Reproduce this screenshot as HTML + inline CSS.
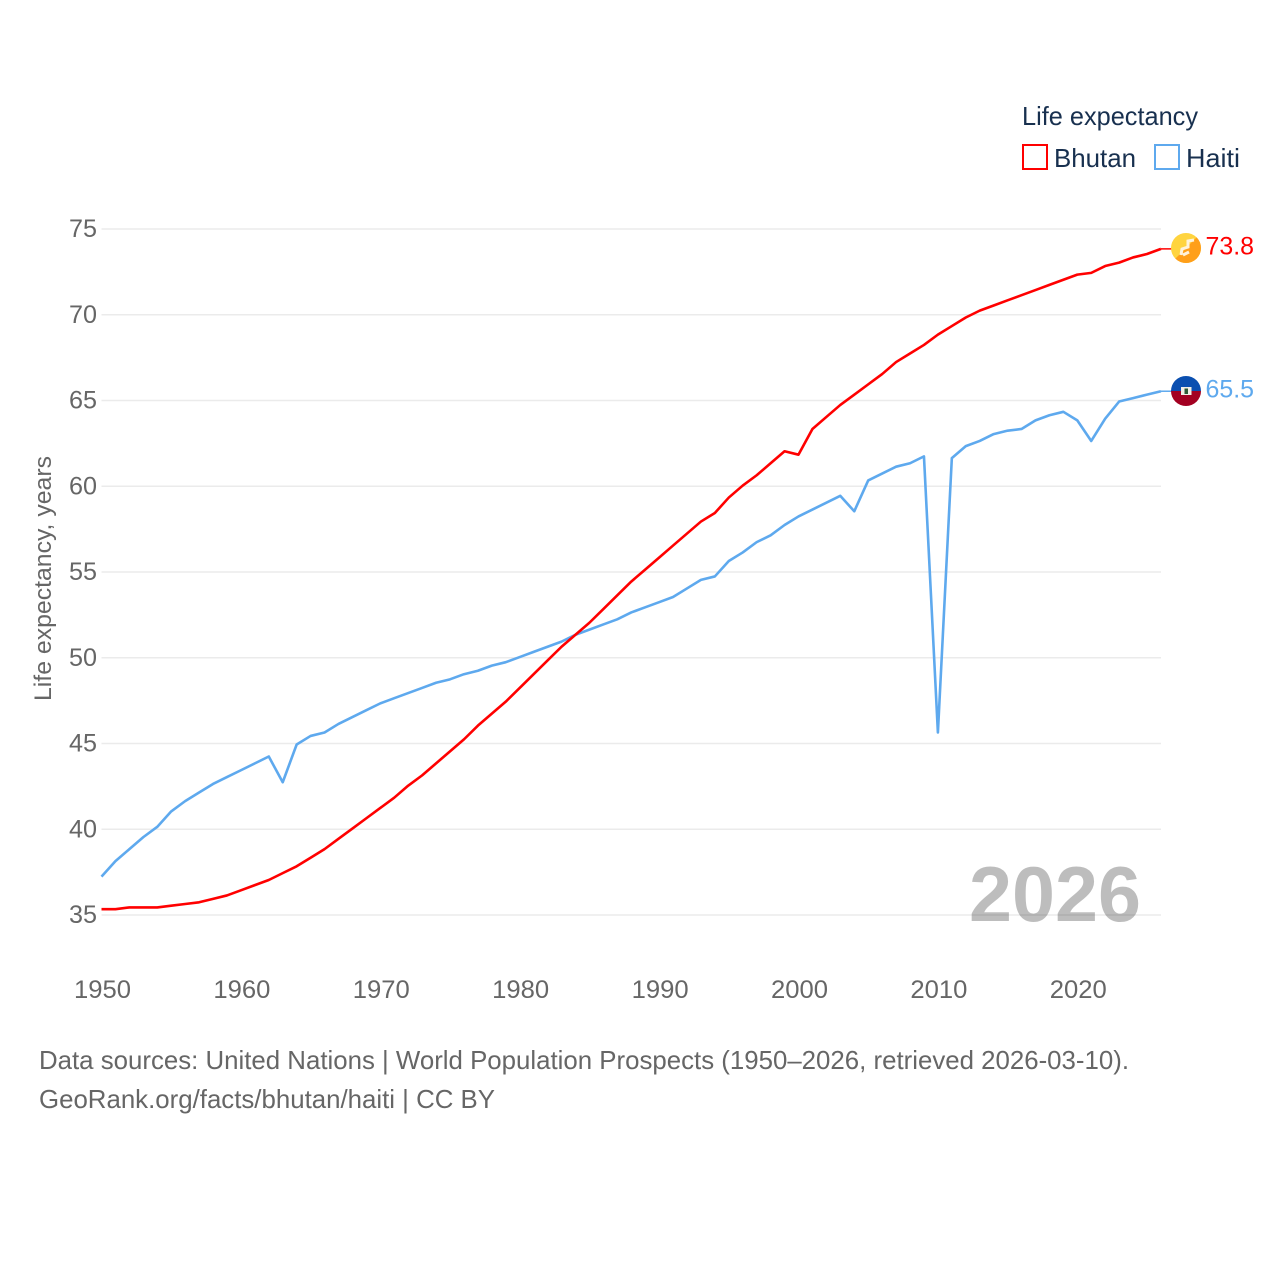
<!DOCTYPE html>
<html>
<head>
<meta charset="utf-8">
<title>Life expectancy: Bhutan vs Haiti</title>
<style>
html,body{margin:0;padding:0;background:#fff;width:1280px;height:1280px;overflow:hidden}
svg{display:block}
text{font-family:"Liberation Sans",sans-serif}
</style>
</head>
<body>
<svg id="chart" width="1280" height="1280" viewBox="0 0 1280 1280" xmlns="http://www.w3.org/2000/svg">
  <defs>
    <clipPath id="clip-bhutan"><circle cx="1186" cy="248" r="15"/></clipPath>
    <clipPath id="clip-haiti"><circle cx="1186" cy="391" r="15"/></clipPath>
  </defs>
  <rect x="0" y="0" width="1280" height="1280" fill="#ffffff"/>
  <g id="grid"></g>
  <g id="yticks"></g>
  <g id="xticks"></g>
  <text transform="translate(51,701) rotate(-90)" font-size="24" fill="#666666" textLength="245" lengthAdjust="spacingAndGlyphs">Life expectancy, years</text>
  <text x="969" y="921" font-size="78" font-weight="bold" fill="#000000" fill-opacity="0.26" textLength="172" lengthAdjust="spacingAndGlyphs">2026</text>
  <g id="series"></g>

  <g clip-path="url(#clip-bhutan)">
    <rect x="1171" y="233" width="30" height="30" fill="#ffd43f"/>
    <polygon points="1171,263 1201,233 1201,263" fill="#ff9f1a"/>
    <path d="M1194 240 L1188 241 L1188 247 L1182 249 L1181 255 M1189 252 L1183 255" fill="none" stroke="#fff3dc" stroke-width="3"/>
  </g>
  <g clip-path="url(#clip-haiti)">
    <rect x="1171" y="376" width="30" height="15" fill="#0a4fb0"/>
    <rect x="1171" y="391" width="30" height="15" fill="#a30021"/>
    <rect x="1181" y="387" width="10.5" height="8" fill="#f2efe6"/>
    <rect x="1184.5" y="388.5" width="3.5" height="5.5" fill="#2e5a35"/>
  </g>
  <text id="label-bhutan" x="1205.5" y="254.5" font-size="25" fill="#ff0000" textLength="48.5" lengthAdjust="spacingAndGlyphs"></text>
  <text id="label-haiti" x="1205.5" y="397.5" font-size="25" fill="#5ea9ee" textLength="48.5" lengthAdjust="spacingAndGlyphs"></text>

  <g>
    <text x="1022" y="125" font-size="26" fill="#18304f" textLength="176" lengthAdjust="spacingAndGlyphs">Life expectancy</text>
    <rect x="1023" y="145" width="24" height="24" fill="#ffffff" stroke="#ff0000" stroke-width="2"/>
    <text x="1054" y="167" font-size="26" fill="#18304f" textLength="82" lengthAdjust="spacingAndGlyphs">Bhutan</text>
    <rect x="1155" y="145" width="24" height="24" fill="#ffffff" stroke="#5ea9ee" stroke-width="2"/>
    <text x="1186" y="167" font-size="26" fill="#18304f" textLength="54" lengthAdjust="spacingAndGlyphs">Haiti</text>
  </g>

  <text x="39" y="1069" font-size="26" fill="#666666" textLength="1090" lengthAdjust="spacingAndGlyphs">Data sources: United Nations | World Population Prospects (1950–2026, retrieved 2026-03-10).</text>
  <text x="39" y="1108" font-size="26" fill="#666666" textLength="456" lengthAdjust="spacingAndGlyphs">GeoRank.org/facts/bhutan/haiti | CC BY</text>
</svg>
<script>
const startYear = 1950;
const yTicks = [35, 40, 45, 50, 55, 60, 65, 70, 75];
const xTicks = [1950, 1960, 1970, 1980, 1990, 2000, 2010, 2020];
const bhutanValues = [35.3,35.3,35.4,35.4,35.4,35.5,35.6,35.7,35.9,36.1,36.4,36.7,37.0,37.4,37.8,38.3,38.8,39.4,40.0,40.6,41.2,41.8,42.5,43.1,43.8,44.5,45.2,46.0,46.7,47.4,48.2,49.0,49.8,50.6,51.3,52.0,52.8,53.6,54.4,55.1,55.8,56.5,57.2,57.9,58.4,59.3,60.0,60.6,61.3,62.0,61.8,63.3,64.0,64.7,65.3,65.9,66.5,67.2,67.7,68.2,68.8,69.3,69.8,70.2,70.5,70.8,71.1,71.4,71.7,72.0,72.3,72.4,72.8,73.0,73.3,73.5,73.8];
const haitiValues = [37.2,38.1,38.8,39.5,40.1,41.0,41.6,42.1,42.6,43.0,43.4,43.8,44.2,42.7,44.9,45.4,45.6,46.1,46.5,46.9,47.3,47.6,47.9,48.2,48.5,48.7,49.0,49.2,49.5,49.7,50.0,50.3,50.6,50.9,51.3,51.6,51.9,52.2,52.6,52.9,53.2,53.5,54.0,54.5,54.7,55.6,56.1,56.7,57.1,57.7,58.2,58.6,59.0,59.4,58.5,60.3,60.7,61.1,61.3,61.7,45.6,61.6,62.3,62.6,63.0,63.2,63.3,63.8,64.1,64.3,63.8,62.6,63.9,64.9,65.1,65.3,65.5];

const NS = 'http://www.w3.org/2000/svg';
function xScale(year) { return 101.5 + (year - 1950) * 13.94; }
function yScale(v) { return 915 - (v - 35) * (915 - 229) / 40; }
function make(tag, attrs, text) {
  const el = document.createElementNS(NS, tag);
  for (const k in attrs) el.setAttribute(k, attrs[k]);
  if (text !== undefined) el.textContent = text;
  return el;
}
const grid = document.getElementById('grid');
const yg = document.getElementById('yticks');
const xg = document.getElementById('xticks');
yTicks.forEach(function (t) {
  const line = make('line', {x1: 101.5, x2: 1161, y1: yScale(t), y2: yScale(t), stroke: '#ebebeb', 'stroke-width': 1.5});
  
  
  grid.appendChild(line);
  const label = make('text', {x: 97, y: yScale(t) + 8, 'text-anchor': 'end', 'font-size': 25, fill: '#666666', textLength: 28, lengthAdjust: 'spacingAndGlyphs'}, String(t));
  
  
  yg.appendChild(label);
});
xTicks.forEach(function (t) {
  const label = make('text', {x: xScale(t) + 1, y: 998, 'text-anchor': 'middle', 'font-size': 25, fill: '#666666', textLength: 57, lengthAdjust: 'spacingAndGlyphs'}, String(t));
  
  
  xg.appendChild(label);
});
function lineY(v) { return yScale(v) - 0.7; }
function pathFor(values) {
  return values.map(function (v, i) {
    return (i ? 'L' : 'M') + xScale(startYear + i).toFixed(2) + ' ' + lineY(v).toFixed(2);
  }).join(' ');
}
const series = document.getElementById('series');
const haitiLine = make('path', {d: pathFor(haitiValues), fill: 'none', stroke: '#5ea9ee', 'stroke-width': 2.6, 'stroke-linejoin': 'round'});


series.appendChild(haitiLine);
const bhutanLine = make('path', {d: pathFor(bhutanValues), fill: 'none', stroke: '#ff0000', 'stroke-width': 2.6, 'stroke-linejoin': 'round'});


series.appendChild(bhutanLine);
const lastBhutan = bhutanValues[bhutanValues.length - 1];
const lastHaiti = haitiValues[haitiValues.length - 1];
const connB = make('line', {x1: xScale(2026), x2: 1172, y1: lineY(lastBhutan), y2: lineY(lastBhutan), stroke: '#ff0000', 'stroke-width': 1.5});


series.appendChild(connB);
const connH = make('line', {x1: xScale(2026), x2: 1172, y1: lineY(lastHaiti), y2: lineY(lastHaiti), stroke: '#5ea9ee', 'stroke-width': 1.5});


series.appendChild(connH);
document.getElementById('label-bhutan').textContent = lastBhutan.toFixed(1);
document.getElementById('label-haiti').textContent = lastHaiti.toFixed(1);
</script>
</body>
</html>
